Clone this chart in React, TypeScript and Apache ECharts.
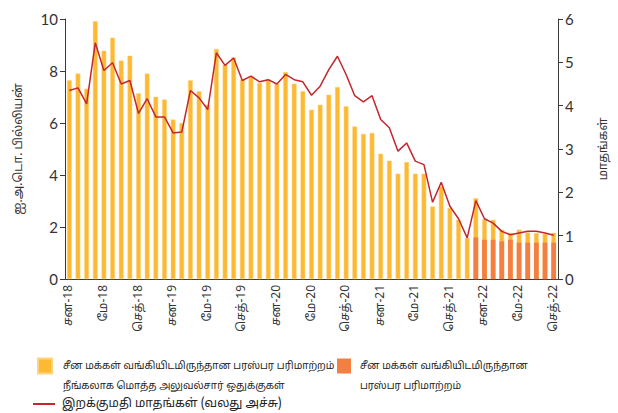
import React, { useEffect, useRef } from "react";
import * as echarts from "echarts";

const monthNames = ["சன", "பெப்", "மார்", "ஏப்", "மே", "யூன்", "யூலை", "ஓக", "செத்", "ஒக்", "நவ", "டிச"];
const years = ["18", "19", "20", "21", "22"];
const monthCount = 57;

const totalReserves = [
  7.64, 7.9, 7.32, 9.91, 8.78, 9.28, 8.4, 8.59, 7.14, 7.9, 7.01, 6.9,
  6.13, 6.0, 7.64, 7.22, 6.7, 8.85, 8.24, 8.52, 7.67, 7.79, 7.54, 7.67,
  7.51, 7.96, 7.51, 7.22, 6.51, 6.7, 7.09, 7.38, 6.64, 5.87, 5.58, 5.62,
  4.82, 4.55, 4.05, 4.5, 4.05, 4.05, 2.79, 3.56, 2.73, 2.28, 1.58, 3.11,
  2.3, 2.28, 1.9, 1.77, 1.9, 1.79, 1.77, 1.74, 1.78,
];

const swapValues = [
  null, null, null, null, null, null, null, null, null, null, null, null,
  null, null, null, null, null, null, null, null, null, null, null, null,
  null, null, null, null, null, null, null, null, null, null, null, null,
  null, null, null, null, null, null, null, null, null, null, null, 1.6,
  1.51, 1.51, 1.45, 1.51, 1.4, 1.4, 1.4, 1.4, 1.4,
];

const importMonths = [
  4.35, 4.41, 4.04, 5.45, 4.81, 4.99, 4.5, 4.58, 3.82, 4.16, 3.74, 3.74,
  3.37, 3.39, 4.35, 4.18, 3.91, 5.22, 4.93, 5.1, 4.58, 4.68, 4.55, 4.6,
  4.5, 4.72, 4.6, 4.55, 4.24, 4.45, 4.83, 5.14, 4.72, 4.23, 4.09, 4.23,
  3.68, 3.49, 2.95, 3.14, 2.72, 2.64, 1.77, 2.23, 1.68, 1.39, 0.95, 1.81,
  1.39, 1.29, 1.1, 1.02, 1.06, 1.1, 1.1, 1.06, 1.01,
];

const categories: string[] = [];
for (let i = 0; i < monthCount; i++) {
  categories.push(monthNames[i % 12] + "-" + years[Math.floor(i / 12)]);
}

const nameTotal = "சீன மக்கள் வங்கியிடமிருந்தான பரஸ்பர பரிமாற்றம்\nநீங்கலாக மொத்த அலுவல்சார் ஒதுக்குகள்";
const nameSwap = "சீன மக்கள் வங்கியிடமிருந்தான\nபரஸ்பர பரிமாற்றம்";
const nameLine = "இறக்குமதி மாதங்கள் (வலது அச்சு)";

const YELLOW = "#FDB933";
const ORANGE = "#F47F42";
const RED = "#C4262E";
const AXIS = "#3a3a3a";
const TAMIL = "'Noto Sans Tamil', 'Latha', sans-serif";

function twoLineFormatter() {
  return (name: string) =>
    "{t| }\n" +
    name
      .split("\n")
      .map((l) => "{g| }{t|" + l + "}")
      .join("\n");
}

export default function App() {
  const ref = useRef<HTMLDivElement>(null);
  useEffect(() => {
    if (!ref.current) return;
    const chart = echarts.init(ref.current, undefined, { renderer: "svg" });
    const richFor = (gap: number, size: number, lh: number) => ({
      t: { fontSize: size, color: "#222", fontFamily: TAMIL, lineHeight: lh },
      g: { width: gap, fontSize: size, lineHeight: lh },
    });
    chart.setOption({
      animation: false,
      grid: { left: 65, right: 55, top: 19, bottom: 134, containLabel: false },
      legend: [
        {
          left: 37,
          top: 341,
          padding: 0,
          data: [nameTotal],
          icon: "rect",
          itemWidth: 14,
          itemHeight: 15,
          formatter: twoLineFormatter(),
          textStyle: { rich: richFor(6, 10, 20) },
        },
        {
          left: 337,
          top: 341,
          padding: 0,
          data: [nameSwap],
          icon: "rect",
          itemWidth: 14,
          itemHeight: 15,
          formatter: twoLineFormatter(),
          textStyle: { rich: richFor(4, 10, 20) },
        },
        {
          left: 33,
          top: 398,
          padding: 0,
          data: [nameLine],
          icon: "rect",
          itemWidth: 22,
          itemHeight: 2,
          formatter: (name: string) => "{g| }{t|" + name + "}",
          textStyle: { rich: richFor(2, 12, 16) },
        },
      ],
      xAxis: {
        type: "category",
        data: categories,
        boundaryGap: true,
        axisLine: { lineStyle: { color: AXIS, width: 1 } },
        axisTick: { interval: 3, length: 5, lineStyle: { color: AXIS } },
        axisLabel: {
          interval: 3,
          rotate: 90,
          fontSize: 12,
          color: "#333",
          margin: 6,
          fontFamily: TAMIL,
        },
      },
      yAxis: [
        {
          type: "value",
          min: 0,
          max: 10,
          interval: 2,
          position: "left",
          name: "ஐ.அ.டொ. பில்லியன்",
          nameLocation: "middle",
          nameGap: 40,
          nameTextStyle: { fontSize: 12, color: "#333", fontFamily: TAMIL },
          axisLine: { show: true, lineStyle: { color: AXIS, width: 1 } },
          axisTick: { show: true, length: 5, lineStyle: { color: AXIS } },
          axisLabel: { fontSize: 15, color: "#333", margin: 7, fontFamily: "Lato, sans-serif" },
          splitLine: { show: false },
        },
        {
          type: "value",
          min: 0,
          max: 6,
          interval: 1,
          position: "right",
          name: "மாதங்கள்",
          nameLocation: "middle",
          nameGap: 40,
          nameTextStyle: { fontSize: 12, color: "#333", fontFamily: TAMIL },
          axisLine: { show: true, lineStyle: { color: AXIS, width: 1 } },
          axisTick: { show: true, length: 5, lineStyle: { color: AXIS } },
          axisLabel: { fontSize: 15, color: "#333", margin: 7, fontFamily: "Lato, sans-serif" },
          splitLine: { show: false },
        },
      ],
      series: [
        {
          name: nameTotal,
          type: "bar",
          data: totalReserves,
          barWidth: "55%",
          barGap: "-100%",
          itemStyle: { color: YELLOW, borderColor: "#FDD57F", borderWidth: 0.5 },
        },
        {
          name: nameSwap,
          type: "bar",
          data: swapValues,
          barWidth: "55%",
          barGap: "-100%",
          itemStyle: { color: ORANGE },
        },
        {
          name: nameLine,
          type: "line",
          yAxisIndex: 1,
          data: importMonths,
          symbol: "none",
          lineStyle: { color: RED, width: 1.5 },
          itemStyle: { color: RED },
        },
      ],
    });
    return () => chart.dispose();
  }, []);
  return <div ref={ref} style={{ width: 618, height: 413, position: "absolute", left: 0, top: 0 }} />;
}
